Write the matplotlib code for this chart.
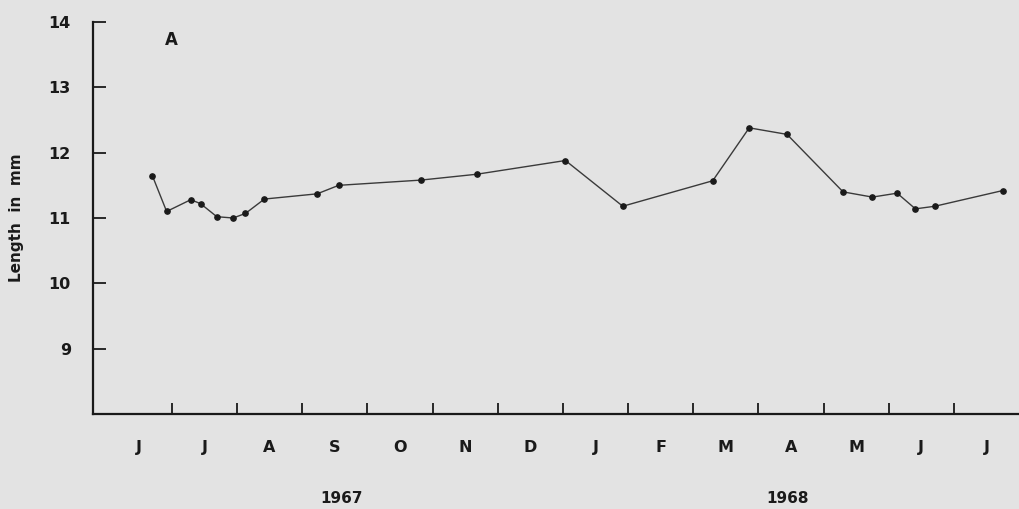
import numpy as np
import matplotlib
matplotlib.use("Agg")
import matplotlib.pyplot as plt

# months counted from 1 June 1967
months = [0.70, 0.92, 1.29, 1.44, 1.69, 1.94, 2.13, 2.42, 3.23, 3.56, 4.82, 5.68,
          7.04, 7.92, 9.30, 9.86, 10.44, 11.30, 11.75, 12.13, 12.41, 12.71, 13.75]
length_mm = [11.65, 11.10, 11.28, 11.22, 11.02, 11.00, 11.07, 11.29, 11.37, 11.50, 11.58, 11.67,
             11.88, 11.18, 11.57, 12.38, 12.28, 11.40, 11.32, 11.38, 11.14, 11.18, 11.42]

month_labels = ["J", "J", "A", "S", "O", "N", "D", "J", "F", "M", "A", "M", "J", "J"]
year_labels = ["1967", "1968"]
year_pos = [3.6, 10.45]
y_ticks = [9, 10, 11, 12, 13, 14]

bg = "#e3e3e3"
ink = "#1a1a1a"

plt.rcParams['font.family'] = ['DejaVu Sans']
plt.rcParams['font.weight'] = 'bold'

fig = plt.figure(figsize=(10.19, 5.09), dpi=100, facecolor=bg)
ax = fig.add_axes([93 / 1019, 1 - 414 / 509, 1 - 93 / 1019, 392 / 509])
ax.set_facecolor(bg)

ax.plot(months, length_mm, color="#3a3a3a", lw=1.0, marker="o", ms=3.8,
        mfc=ink, mec=ink, zorder=3)

ax.set_xlim(-0.21, 14.0)
ax.set_ylim(8, 14)

for s in ["top", "right"]:
    ax.spines[s].set_visible(False)
for s in ["left", "bottom"]:
    ax.spines[s].set_linewidth(1.6)
    ax.spines[s].set_color(ink)

# month boundaries as ticks, month letters centred between them
ax.set_xticks(np.arange(1, 14))
ax.set_xticklabels([])
ax.tick_params(axis="x", which="major", direction="in", length=8, width=1.3, color=ink)
ax.set_xticks(np.arange(0.5, 14), minor=True)
ax.set_xticklabels(month_labels, minor=True, fontsize=11.5, fontweight="bold", color=ink)
ax.tick_params(axis="x", which="minor", length=0, pad=19)

ax.set_yticks(y_ticks)
ax.set_yticklabels([str(v) for v in y_ticks], fontsize=11.5, fontweight="bold", color=ink)
ax.tick_params(axis="y", direction="in", length=9, width=1.3, color=ink, pad=16)

ax.set_ylabel("Length  in  mm", fontsize=11, fontweight="bold", color=ink)
ax.yaxis.set_label_coords(-0.074, 0.5)

for lab, xp in zip(year_labels, year_pos):
    ax.text(xp, -0.215, lab, transform=ax.get_xaxis_transform(), ha="center", va="center",
            fontsize=11, fontweight="bold", color=ink)

ax.text(1.0, 13.72, "A", ha="center", va="center", fontsize=12, fontweight="bold", color=ink)

fig.savefig("out.png", dpi=100, facecolor=bg)
